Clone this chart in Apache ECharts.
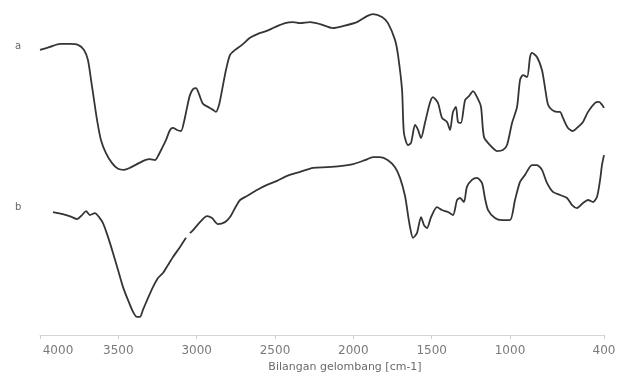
<!DOCTYPE html>
<html>
<head>
<meta charset="utf-8">
<script src="https://cdn.jsdelivr.net/npm/echarts@6/dist/echarts.min.js"></script>
<style>
  html, body { margin: 0; padding: 0; background: #fff; }
  #chart { width: 617px; height: 376px; }
</style>
</head>
<body>
<div id="chart"></div>
<script>
// IR spectra: wavenumber (cm-1) and relative transmittance (offset traces)
const wavenumberA = [4000,3936,3872,3809,3757,3719,3694,3674,3655,3636,3611,3579,3540,3502,3464,3426,3381,3330,3298,3266,3247,3221,3196,3170,3151,3126,3100,3081,3062,3043,3023,3004,2985,2960,2928,2896,2877,2857,2838,2813,2787,2755,2711,2660,2609,2557,2500,2436,2385,2340,2277,2213,2130,2066,1977,1913,1874,1817,1779,1734,1715,1689,1677,1651,1632,1606,1587,1568,1543,1511,1492,1460,1434,1402,1383,1364,1345,1332,1313,1287,1262,1236,1204,1185,1166,1128,1083,1045,1019,987,955,936,917,891,872,860,828,796,777,757,732,700,681,662,630,598,566,534,502,457,432,412,400];
const transA = [85.1,86.0,86.9,86.9,86.6,85.1,82.1,76.1,70.1,64.2,58.2,54.3,51.3,49.6,49.3,49.9,51.0,52.2,52.5,52.2,53.4,55.8,58.2,61.2,61.8,61.2,60.9,63.6,67.8,71.6,73.4,73.7,71.9,69.0,68.1,67.2,66.6,68.7,73.1,79.1,83.6,85.1,86.6,88.7,89.9,90.7,91.9,93.1,93.4,93.1,93.4,92.8,91.6,92.2,93.4,95.2,95.8,94.9,93.1,88.1,83.6,73.1,60.3,56.7,57.3,62.7,61.2,58.8,63.3,69.3,71.0,69.3,64.8,63.6,61.2,66.6,68.1,63.6,63.3,70.1,71.3,72.8,70.4,68.1,59.1,56.7,54.9,55.2,56.7,63.3,68.1,76.1,77.6,77.0,83.0,84.2,83.0,79.1,74.0,68.7,67.2,66.6,66.6,64.8,61.8,60.9,62.1,63.6,66.6,69.3,69.6,68.7,67.8];

const wavenumberB = [3917,3853,3796,3764,3732,3706,3681,3649,3623,3598,3566,3534,3502,3470,3438,3406,3381,3362,3343,3311,3279,3247,3215,3183,3151,3106,3068,3055,3043,3023,2979,2934,2902,2864,2819,2787,2755,2723,2679,2615,2551,2487,2423,2340,2257,2168,2085,2002,1926,1874,1830,1779,1734,1702,1670,1651,1638,1619,1594,1568,1549,1530,1504,1466,1434,1396,1364,1338,1319,1294,1275,1243,1211,1179,1160,1140,1096,1051,1000,968,936,904,860,828,796,764,726,681,636,604,572,534,502,470,445,425,413,400];
// a short break in trace b near 3055 cm-1 is kept as a missing value
const transB = [36.7,36.1,35.2,34.6,35.8,37.0,35.8,36.4,35.2,33.4,29.3,24.5,19.4,14.3,10.4,6.9,5.4,5.4,7.5,11.0,14.3,17.0,18.5,20.9,23.3,26.3,29.0,null,30.4,31.3,33.7,35.5,34.9,33.1,33.7,35.2,37.9,40.3,41.5,43.3,44.8,46.0,47.5,48.7,49.9,50.1,50.4,51.0,52.2,53.1,53.1,52.2,50.1,46.9,41.5,35.8,32.2,29.0,30.4,35.2,32.8,31.9,35.2,38.2,37.3,36.7,35.8,40.3,40.9,39.7,44.2,46.3,46.9,45.4,40.9,37.3,34.9,34.3,34.3,40.3,45.7,47.8,50.7,50.7,49.3,45.4,42.7,41.8,40.9,38.8,37.9,39.4,40.3,39.7,41.2,46.3,50.7,53.7];

const tickValues = [4000,3500,3000,2500,2000,1500,1000,400];
const traceNames = ['a', 'b'];
const axisTitle = 'Bilangan gelombang [cm-1]';

function pairs(xs, ys) {
  return xs.map((x, i) => [x, ys[i] === null ? null : ys[i]]);
}

const chart = echarts.init(document.getElementById('chart'), null, { renderer: 'canvas' });

const lineStyle = { color: '#353535', width: 1.8 };

chart.setOption({
  backgroundColor: '#ffffff',
  animation: false,
  grid: { left: 40, right: 13, top: 0, bottom: 41, containLabel: false, outerBoundsMode: 'none' },
  xAxis: {
    type: 'value',
    inverse: true,
    min: 400,
    max: 4000,
    splitLine: { show: false },
    axisLine: { show: true, lineStyle: { color: '#d6d6d6', width: 1 } },
    axisTick: { show: true, customValues: tickValues, length: 4, lineStyle: { color: '#cfcfcf' } },
    axisLabel: {
      customValues: tickValues,
      color: '#7a7a7a',
      fontSize: 12,
      fontFamily: 'DejaVu Sans',
      margin: 10,
      // the leftmost label sits just right of its tick
      formatter: function (v) {
        return v === 4000 ? '{edge|' + v + '}' : String(v);
      },
      rich: {
        edge: { color: '#7a7a7a', fontSize: 12, fontFamily: 'DejaVu Sans', padding: [0, 0, 0, 36] }
      }
    },
    name: axisTitle,
    nameLocation: 'middle',
    nameGap: 24,
    nameTextStyle: { color: '#6a6a6a', fontSize: 11, fontFamily: 'DejaVu Sans', padding: [0, 0, 0, 46] }
  },
  yAxis: {
    type: 'value',
    min: 0,
    max: 100,
    show: false
  },
  graphic: [
    { type: 'text', left: 15, top: 41, style: { text: traceNames[0], fill: '#666', font: '10px DejaVu Sans' } },
    { type: 'text', left: 15, top: 202, style: { text: traceNames[1], fill: '#666', font: '10px DejaVu Sans' } }
  ],
  series: [
    {
      name: traceNames[0],
      type: 'line',
      data: pairs(wavenumberA, transA),
      showSymbol: false,
      smooth: 0.25,
      lineStyle: lineStyle
    },
    {
      name: traceNames[1],
      type: 'line',
      data: pairs(wavenumberB, transB),
      showSymbol: false,
      smooth: 0.25,
      connectNulls: false,
      lineStyle: lineStyle
    }
  ]
});
</script>
</body>
</html>
